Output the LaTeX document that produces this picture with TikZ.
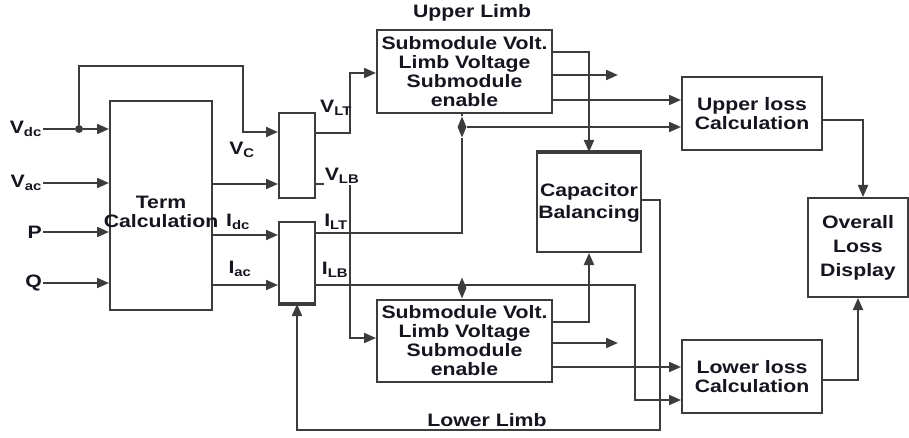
\documentclass[tikz,border=0pt]{standalone}
\usepackage{fontspec}
\setmainfont{Liberation Sans}[FakeStretch=1.18]
\usetikzlibrary{arrows.meta,positioning,shapes.geometric}
\definecolor{wiregray}{HTML}{3C3C3C}
\definecolor{ink}{HTML}{151520}

\tikzset{
  blk/.style={draw=wiregray,line width=2pt,fill=white,inner sep=1pt,align=center,text=ink},
  wire/.style={draw=wiregray,line width=2pt},
  arr/.style={wire,-{Triangle[length=12pt,width=10pt]}},
  sig/.style={text=ink,inner sep=1pt},
  junc/.style={diamond,fill=wiregray,inner sep=0pt,minimum width=9pt,minimum height=21pt},
  jdot/.style={circle,fill=wiregray,inner sep=0pt,minimum size=8pt},
}

\begin{document}
\begin{tikzpicture}[x=1pt,y=-1pt,font=\fontsize{18}{19}\selectfont\bfseries]
  \useasboundingbox (0,0) rectangle (909,438);

  % Left: inputs and term block
  \node[blk,minimum width=102pt,minimum height=209pt] (term) at (161,205.5) {};
  \node[sig,align=center] (termtxt) at (161,212) {Term\\Calculation};
  \node[sig,anchor=east] (vdc) at (43,129) {V\textsubscript{dc}};
  \node[sig,anchor=east] (vac) at (43,183) {V\textsubscript{ac}};
  \node[sig,anchor=east] (pin) at (43,232) {P};
  \node[sig,anchor=east] (qin) at (43,283) {Q};
  \node[jdot] (jdc) at (79,129) {};

  \draw[wire] (vdc.east) -- (jdc);
  \draw[arr] (jdc) -- (term.west |- jdc);
  \draw[arr] (vac.east) -- (term.west |- vac.east);
  \draw[arr] (pin.east) -- (term.west |- pin.east);
  \draw[arr] (qin.east) -- (term.west |- qin.east);

  % Selectors
  \node[blk,minimum width=36pt,minimum height=85pt] (mux1) at (297,155.5) {};
  \node[blk,minimum width=36pt,minimum height=81pt] (mux2) at (297,262.5) {};
  \draw[wiregray,line width=4pt] (mux2.south west) -- (mux2.south east);

  \draw[arr] (jdc) |- (243,66) |- (mux1.west |- 0,132);
  \draw[arr] (term.east |- 0,184) -- (mux1.west |- 0,184);
  \draw[arr] (term.east |- 0,235) -- (mux2.west |- 0,235);
  \draw[arr] (term.east |- 0,285) -- (mux2.west |- 0,285);

  % Limb blocks
  \node[blk,minimum width=175pt,minimum height=83pt] (upl) at (464.5,71.5) {Submodule Volt.\\Limb Voltage\\Submodule\\enable};
  \node[blk,minimum width=175pt,minimum height=82pt] (lol) at (464.5,341) {Submodule Volt.\\Limb Voltage\\Submodule\\enable};
  \node[sig] (uptitle) at (472,13) {Upper Limb};
  \node[sig] (lotitle) at (487,420) {Lower Limb};

  \draw[arr] (mux1.east |- 0,133) -| (350,73) -- (upl.west |- 0,73);
  \draw[arr] (mux1.east |- 0,184) -| (350,338) -- (lol.west |- 0,338);

  % Capacitor balancing
  \node[blk,minimum width=104pt,minimum height=99pt] (cap) at (589,202.5) {Capacitor\\[3pt]Balancing};
  \draw[wiregray,line width=4pt] (cap.north west) -- (cap.north east);

  % Loss blocks
  \node[blk,minimum width=140pt,minimum height=73pt] (uloss) at (752,113.5) {Upper loss\\Calculation};
  \node[blk,minimum width=140pt,minimum height=73pt] (lloss) at (752,376.5) {Lower loss\\Calculation};
  \node[blk,minimum width=100pt,minimum height=99pt] (total) at (858,247.5) {Overall\\[5pt]Loss\\[5pt]Display};

  % Currents to the limbs
  \node[junc] (jup) at (462,127) {};
  \node[junc] (jlo) at (462,288) {};
  \draw[wire] (mux2.east |- 0,233) -| (jup);
  \draw[wire] (jup) -- (jup |- upl.south);
  \draw[arr] (jup) -- (uloss.west |- jup);
  \draw[arr] (mux2.east |- 0,285) -| (635,400) -- (lloss.west |- 0,400);
  \draw[wire] (jlo) -- (jlo |- lol.north);

  % Limb outputs
  \coordinate (uout) at (618,75);
  \coordinate (lout) at (618,343);
  \draw[arr] (upl.east |- 0,52) -| (cap);
  \draw[arr] (upl.east |- uout) -- (uout);
  \draw[arr] (upl.east |- 0,100) -- (uloss.west |- 0,100);
  \draw[arr] (lol.east |- 0,322) -| (cap);
  \draw[arr] (lol.east |- lout) -- (lout);
  \draw[arr] (lol.east |- 0,367) -- (lloss.west |- 0,367);

  % Feedback to the lower selector
  \draw[arr] (cap.east |- 0,200) -| (660,430) -| (mux2.south);

  % Overall loss
  \draw[arr] (uloss.east |- 0,120) -| ([xshift=5pt]total.north);
  \draw[arr] (lloss.east |- 0,380) -| (total.south);

  % Signal names
  \node[sig] (vc) at (242,150) {V\textsubscript{C}};
  \node[sig] (idc) at (238,222) {I\textsubscript{dc}};
  \node[sig] (iac) at (240,269) {I\textsubscript{ac}};
  \node[sig] (vlt) at (336,108) {V\textsubscript{LT}};
  \node[sig,fill=white] (vlb) at (342,176) {V\textsubscript{LB}};
  \node[sig] (ilt) at (336,222) {I\textsubscript{LT}};
  \node[sig] (ilb) at (335,270) {I\textsubscript{LB}};
\end{tikzpicture}
\end{document}
